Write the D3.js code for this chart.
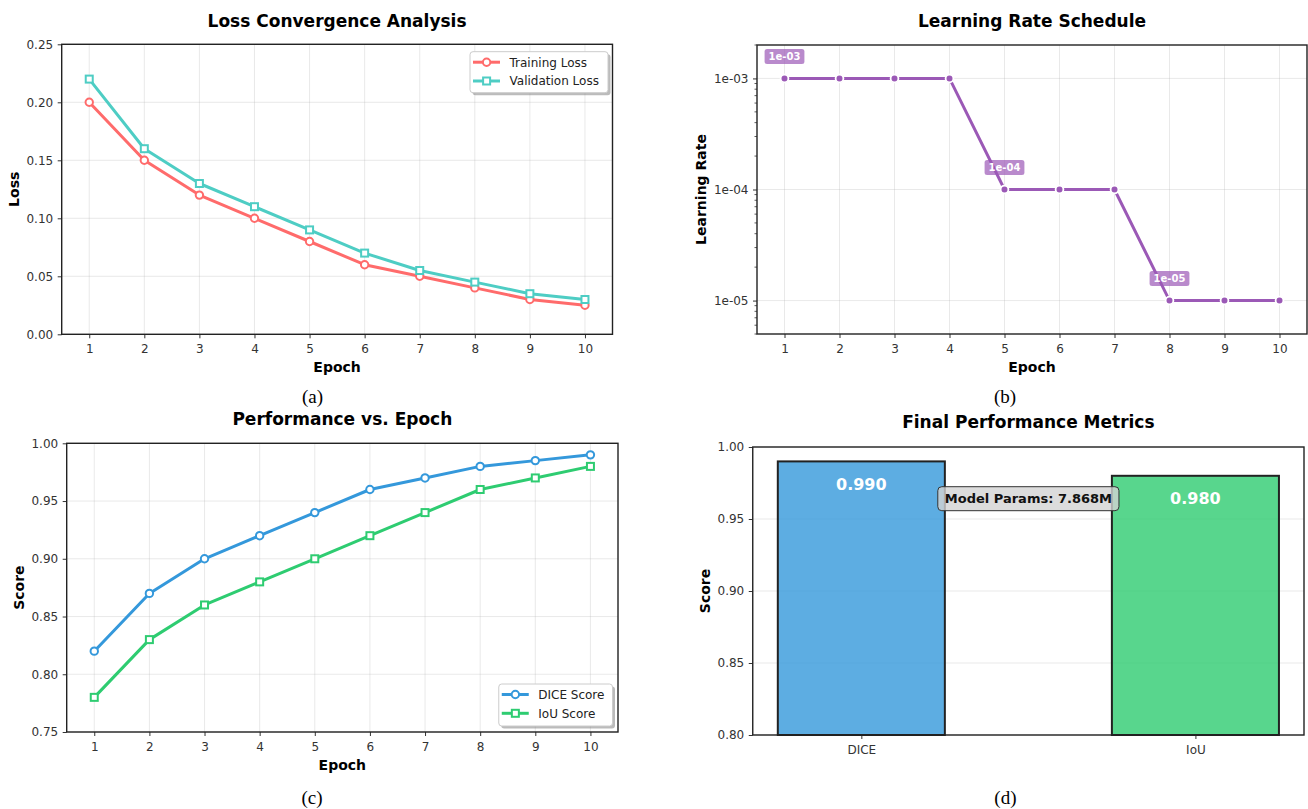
<!DOCTYPE html>
<html>
<head>
<meta charset="utf-8">
<script src="https://cdn.jsdelivr.net/npm/d3@7/dist/d3.min.js"></script>
<style>
    body { margin: 0; background: #fff; }
    text { font-family: "DejaVu Sans", sans-serif; }
    text.caption { font-family: "Liberation Serif", "Times New Roman", serif; }
</style>
</head>
<body>
<svg id="chart" width="1308" height="809"></svg>
<script>
// data
const epochs = [1, 2, 3, 4, 5, 6, 7, 8, 9, 10];
const trainLoss = [0.20, 0.15, 0.12, 0.10, 0.08, 0.06, 0.05, 0.04, 0.03, 0.025];
const valLoss = [0.22, 0.16, 0.13, 0.11, 0.09, 0.07, 0.055, 0.045, 0.035, 0.03];
const learningRate = [1e-3, 1e-3, 1e-3, 1e-3, 1e-4, 1e-4, 1e-4, 1e-5, 1e-5, 1e-5];
const lrChangeEpochs = [1, 5, 8];
const diceScore = [0.82, 0.87, 0.90, 0.92, 0.94, 0.96, 0.97, 0.98, 0.985, 0.99];
const iouScore = [0.78, 0.83, 0.86, 0.88, 0.90, 0.92, 0.94, 0.96, 0.97, 0.98];
const metricNames = ['DICE', 'IoU'];
const metricValues = [0.990, 0.980];
const modelParams = 7.868;

const lossTicks = [0, 0.05, 0.10, 0.15, 0.20, 0.25];
const lrTicks = [1e-3, 1e-4, 1e-5];
const scoreTicks = [0.75, 0.80, 0.85, 0.90, 0.95, 1.00];
const barTicks = [0.80, 0.85, 0.90, 0.95, 1.00];

const svg = d3.select('#chart');
const sciFmt = d => d.toExponential(0).replace(/e-(\d)$/, 'e-0$1');

function drawGrid(g, x, y, xVals, yVals) {
    const [xl, xr] = x.range();
    const [yb, yt] = y.range();
    const gg = g.append('g');
    gg.selectAll('.gx').data(xVals).join('line')
        .attr('x1', d => x(d)).attr('x2', d => x(d)).attr('y1', yb).attr('y2', yt);
    gg.selectAll('.gy').data(yVals).join('line')
        .attr('x1', xl).attr('x2', xr).attr('y1', d => y(d)).attr('y2', d => y(d));
    gg.selectAll('line').attr('stroke', '#b0b0b0').attr('stroke-opacity', 0.35).attr('stroke-width', 0.8);
}

function drawAxes(g, x, y, xVals, yVals, xFmt, yFmt) {
    const bottom = y.range()[0], left = x.range()[0];
    const ax = g.append('g').attr('transform', `translate(0,${bottom})`)
        .call(d3.axisBottom(x).tickValues(xVals).tickFormat(xFmt).tickSize(4).tickPadding(6));
    const ay = g.append('g').attr('transform', `translate(${left},0)`)
        .call(d3.axisLeft(y).tickValues(yVals).tickFormat(yFmt).tickSize(4).tickPadding(4.5));
    [ax, ay].forEach(a => {
        a.select('.domain').remove();
        a.selectAll('text').attr('font-size', 12).attr('fill', '#333');
        a.selectAll('line').attr('stroke', '#333');
    });
}

function drawSpine(g, x, y) {
    const [xl, xr] = x.range();
    const [yb, yt] = y.range();
    g.append('rect').attr('x', xl).attr('y', yt).attr('width', xr - xl).attr('height', yb - yt)
        .attr('fill', 'none').attr('stroke', '#222').attr('stroke-width', 1.4);
}

function drawTitle(g, x, y, title, xLabel, yLabel, yLabelX, yTitle) {
    const [xl, xr] = x.range();
    const [yb, yt] = y.range();
    const cx = (xl + xr) / 2;
    g.append('text').attr('x', cx).attr('y', yTitle).attr('text-anchor', 'middle')
        .attr('font-size', 17).attr('font-weight', 'bold').attr('fill', '#000').text(title);
    if (xLabel) {
        g.append('text').attr('x', cx).attr('y', yb + 38).attr('text-anchor', 'middle')
            .attr('font-size', 14).attr('font-weight', 'bold').attr('fill', '#000').text(xLabel);
    }
    g.append('text').attr('transform', `translate(${yLabelX},${(yb + yt) / 2}) rotate(-90)`)
        .attr('text-anchor', 'middle').attr('font-size', 14).attr('font-weight', 'bold')
        .attr('fill', '#000').text(yLabel);
}

function marker(g, shape, cx, cy, color) {
    if (shape == 'circle') {
        g.append('circle').attr('cx', cx).attr('cy', cy).attr('r', 3.7)
            .attr('fill', '#fff').attr('stroke', color).attr('stroke-width', 2);
    } else {
        g.append('rect').attr('x', cx - 3.5).attr('y', cy - 3.5).attr('width', 7).attr('height', 7)
            .attr('fill', '#fff').attr('stroke', color).attr('stroke-width', 2);
    }
}

function drawSeries(g, x, y, values, color, shape) {
    const line = d3.line().x((d, i) => x(epochs[i])).y(d => y(d));
    g.append('path').datum(values).attr('d', line).attr('fill', 'none')
        .attr('stroke', color).attr('stroke-width', 3).attr('stroke-linejoin', 'round');
    values.forEach((v, i) => marker(g, shape, x(epochs[i]), y(v), color));
}

function drawLegend(g, items, x0, y0, w, h) {
    g.append('rect').attr('x', x0 + 2.5).attr('y', y0 + 2.5).attr('width', w).attr('height', h)
        .attr('rx', 3).attr('fill', '#777').attr('fill-opacity', 0.5);
    g.append('rect').attr('x', x0).attr('y', y0).attr('width', w).attr('height', h)
        .attr('rx', 3).attr('fill', '#fff').attr('stroke', '#ccc').attr('stroke-width', 1);
    items.forEach((it, i) => {
        const cy = y0 + 10.5 + i * 18.8;
        g.append('line').attr('x1', x0 + 3).attr('x2', x0 + 30).attr('y1', cy).attr('y2', cy)
            .attr('stroke', it.color).attr('stroke-width', 3);
        marker(g, it.shape, x0 + 16.6, cy, it.color);
        g.append('text').attr('x', x0 + 39.5).attr('y', cy + 4.3).attr('font-size', 12)
            .attr('fill', '#222').text(it.label);
    });
}

function caption(label, cx, cy) {
    svg.append('text').attr('class', 'caption').attr('x', cx).attr('y', cy)
        .attr('text-anchor', 'middle').attr('font-size', 19)
        .attr('fill', '#000').text(label);
}

// (a) loss curves
{
    const g = svg.append('g');
    const x = d3.scaleLinear().domain([0.5, 10.5]).range([61.7, 612.5]);
    const y = d3.scaleLinear().domain([0, 0.25]).range([334.3, 44.3]);
    drawGrid(g, x, y, epochs, lossTicks);
    drawAxes(g, x, y, epochs, lossTicks, d3.format('d'), d3.format('.2f'));
    drawSeries(g, x, y, trainLoss, '#ff6b6b', 'circle');
    drawSeries(g, x, y, valLoss, '#4ecdc4', 'square');
    drawSpine(g, x, y);
    drawTitle(g, x, y, 'Loss Convergence Analysis', 'Epoch', 'Loss', 19, 27);
    drawLegend(g, [
        { label: 'Training Loss', color: '#ff6b6b', shape: 'circle' },
        { label: 'Validation Loss', color: '#4ecdc4', shape: 'square' }
    ], 470, 51.7, 138, 41);
}

// (b) learning rate schedule, log axis
{
    const g = svg.append('g');
    const x = d3.scaleLinear().domain([0.5, 10.5]).range([757, 1307]);
    const y = d3.scaleLog().domain([5e-6, 2e-3]).range([334, 45]);
    drawGrid(g, x, y, epochs, lrTicks);
    drawAxes(g, x, y, epochs, lrTicks, d3.format('d'), sciFmt);
    // minor ticks
    const minor = y.ticks().filter(t => !lrTicks.includes(t));
    g.append('g').selectAll('line').data(minor).join('line')
        .attr('x1', 757).attr('x2', 754.5).attr('y1', d => y(d)).attr('y2', d => y(d))
        .attr('stroke', '#333').attr('stroke-width', 0.8);

    const line = d3.line().x((d, i) => x(epochs[i])).y(d => y(d));
    g.append('path').datum(learningRate).attr('d', line).attr('fill', 'none')
        .attr('stroke', '#9b59b6').attr('stroke-width', 3);
    g.selectAll('.lrpt').data(learningRate).join('circle')
        .attr('cx', (d, i) => x(epochs[i])).attr('cy', d => y(d)).attr('r', 3.9)
        .attr('fill', '#9b59b6').attr('stroke', '#fff').attr('stroke-width', 1.8);

    // value badges where the rate drops
    lrChangeEpochs.forEach(ep => {
        const v = learningRate[ep - 1];
        const cx = x(ep), cy = y(v) - 22;
        const t = g.append('text').attr('x', cx).attr('y', cy + 3.6).attr('text-anchor', 'middle')
            .attr('font-size', 10).attr('font-weight', 'bold').attr('fill', '#fff')
            .text(sciFmt(v));
        const w = t.node().getComputedTextLength() + 8;
        g.insert('rect', () => t.node()).attr('x', cx - w / 2).attr('y', cy - 7.5)
            .attr('width', w).attr('height', 15).attr('rx', 2.5)
            .attr('fill', '#9b59b6').attr('fill-opacity', 0.7);
    });
    drawSpine(g, x, y);
    drawTitle(g, x, y, 'Learning Rate Schedule', 'Epoch', 'Learning Rate', 706, 27);
}

// (c) dice / iou per epoch
{
    const g = svg.append('g');
    const x = d3.scaleLinear().domain([0.5, 10.5]).range([66.7, 618]);
    const y = d3.scaleLinear().domain([0.75, 1.0]).range([732, 443.3]);
    drawGrid(g, x, y, epochs, scoreTicks);
    drawAxes(g, x, y, epochs, scoreTicks, d3.format('d'), d3.format('.2f'));
    drawSeries(g, x, y, diceScore, '#3498db', 'circle');
    drawSeries(g, x, y, iouScore, '#2ecc71', 'square');
    drawSpine(g, x, y);
    drawTitle(g, x, y, 'Performance vs. Epoch', 'Epoch', 'Score', 24, 425);
    drawLegend(g, [
        { label: 'DICE Score', color: '#3498db', shape: 'circle' },
        { label: 'IoU Score', color: '#2ecc71', shape: 'square' }
    ], 498.75, 684, 113.75, 42);
}

// (d) final metrics bars
{
    const g = svg.append('g');
    const x = d3.scaleLinear().domain([-0.325, 1.325]).range([752.75, 1304]);
    const y = d3.scaleLinear().domain([0.80, 1.00]).range([735, 447]);
    const barColors = ['#3498db', '#2ecc71'];
    drawGrid(g, x, y, [], barTicks);
    drawAxes(g, x, y, [0, 1], barTicks, i => metricNames[i], d3.format('.2f'));
    g.selectAll('.bar').data(metricValues).join('rect')
        .attr('x', (d, i) => x(i - 0.25)).attr('width', x(0.25) - x(-0.25))
        .attr('y', d => y(d)).attr('height', d => y(0.80) - y(d))
        .attr('fill', (d, i) => barColors[i]).attr('fill-opacity', 0.8)
        .attr('stroke', '#222').attr('stroke-width', 2);
    g.selectAll('.val').data(metricValues).join('text')
        .attr('x', (d, i) => x(i)).attr('y', d => y(d) + 28.5).attr('text-anchor', 'middle')
        .attr('font-size', 16).attr('font-weight', 'bold').attr('fill', '#fff')
        .text(d => d.toFixed(3));
    drawSpine(g, x, y);
    drawTitle(g, x, y, 'Final Performance Metrics', null, 'Score', 710, 428);

    const cx = (x.range()[0] + x.range()[1]) / 2;
    const t = g.append('text').attr('x', cx).attr('y', 503.4).attr('text-anchor', 'middle')
        .attr('font-size', 13).attr('font-weight', 'bold').attr('fill', '#111')
        .text(`Model Params: ${modelParams.toFixed(3)}M`);
    const w = t.node().getComputedTextLength() + 14;
    g.insert('rect', () => t.node()).attr('x', cx - w / 2).attr('y', 486.7)
        .attr('width', w).attr('height', 24).attr('rx', 4)
        .attr('fill', '#d3d3d3').attr('fill-opacity', 0.8).attr('stroke', '#333').attr('stroke-width', 1);
}

caption('(a)', 312.5, 403);
caption('(b)', 1005, 403);
caption('(c)', 312, 803.5);
caption('(d)', 1005.4, 803.5);
</script>
</body>
</html>
